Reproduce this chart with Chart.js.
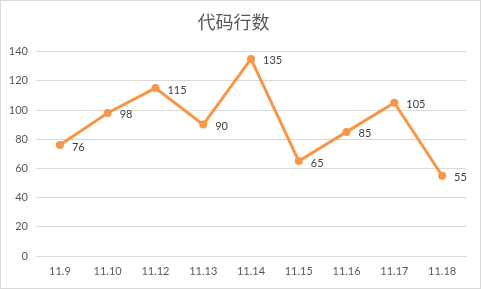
<!DOCTYPE html>
<html><head><meta charset="utf-8">
<script src="https://cdn.jsdelivr.net/npm/chart.js@4"></script>
<style>
html,body{margin:0;padding:0;background:#fff;}
#box{width:481px;height:289px;box-sizing:border-box;border:1px solid #d9d9d9;position:relative;}
canvas{display:block;}
</style></head>
<body>
<div id="box"><canvas id="c" width="479" height="287"></canvas></div>
<script>
const titleText = '代码行数';
const categories = ['11.9','11.10','11.12','11.13','11.14','11.15','11.16','11.17','11.18'];
const lineValues = [76, 98, 115, 90, 135, 65, 85, 105, 55];
const yTicks = [0, 20, 40, 60, 80, 100, 120, 140];

const numFont = "Lato, 'Liberation Sans', sans-serif";

const labelPlugin = {
  id: 'pointLabels',
  afterDatasetsDraw(chart) {
    const ctx = chart.ctx;
    const meta = chart.getDatasetMeta(0);
    ctx.save();
    ctx.font = '11px ' + numFont;
    ctx.fillStyle = '#404040';
    ctx.textAlign = 'left';
    ctx.textBaseline = 'middle';
    meta.data.forEach((pt, i) => {
      ctx.fillText(String(lineValues[i]), pt.x + 12, pt.y + 2);
    });
    ctx.restore();
  }
};

new Chart(document.getElementById('c'), {
  type: 'line',
  data: {
    labels: categories,
    datasets: [{
      data: lineValues,
      borderColor: '#F79646',
      backgroundColor: '#F79646',
      borderWidth: 3,
      pointRadius: 4,
      pointHoverRadius: 4,
      pointBorderWidth: 0,
      tension: 0,
      fill: false
    }]
  },
  options: {
    responsive: false,
    animation: false,
    devicePixelRatio: 1,
    layout: { padding: { left: 0, right: 14, top: 0, bottom: 0 } },
    plugins: {
      legend: { display: false },
      tooltip: { enabled: false },
      title: {
        display: true,
        text: titleText,
        color: '#595959',
        font: { family: "'Noto Sans CJK SC', sans-serif", size: 18, weight: 'normal' },
        padding: { top: 10, bottom: 19 }
      }
    },
    scales: {
      x: {
        offset: true,
        grid: { display: false, drawTicks: false },
        border: { display: true, color: '#d9d9d9', width: 1 },
        ticks: { color: '#595959', font: { family: numFont, size: 11 }, padding: 9, maxRotation: 0, autoSkip: false },
        afterFit(s) { s.height = 32; }
      },
      y: {
        min: 0, max: 140,
        afterBuildTicks(s) { s.ticks = yTicks.map(v => ({ value: v })); },
        grid: { color: '#d9d9d9', drawTicks: false },
        border: { display: false },
        ticks: { color: '#595959', font: { family: numFont, size: 11 }, padding: 8 },
        afterFit(s) { s.width = 35; }
      }
    }
  },
  plugins: [labelPlugin]
});
</script>
</body></html>
